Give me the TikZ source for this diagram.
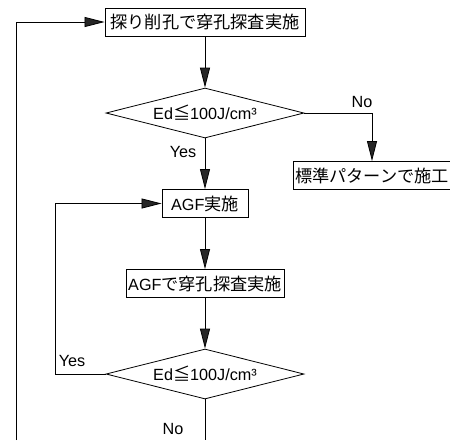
\documentclass[tikz,border=0pt]{standalone}
\usepackage{fontspec}
\setmainfont{Liberation Sans}
\newfontfamily\cjk[Scale=1.06]{Noto Sans CJK JP}
\usetikzlibrary{shapes.geometric,arrows.meta}
\begin{document}
\begin{tikzpicture}[x=1pt,y=-1pt,
  font=\fontsize{16.2}{19}\selectfont,
  box/.style={draw, line width=0.9pt, inner sep=0pt, minimum height=28pt},
  dec/.style={draw, diamond, aspect=4, inner sep=0pt, minimum width=198pt, minimum height=50pt, line width=0.8pt},
  link/.style={line width=0.8pt},
  arr/.style={link, -{Triangle[length=20pt,width=10pt,fill=black!85]}},
  lbl/.style={inner sep=0pt}]
\useasboundingbox (0,0) rectangle (450,440);
\node[box, minimum width=200pt] (n1) at (205,22) {\cjk 探り削孔で穿孔探査実施};
\node[dec] (d1) at (205,113) {Ed{\cjk ≦}100J/cm³};
\node[box, minimum width=157pt] (std) at (372,175.5) {\cjk 標準パターンで施工};
\node[box, minimum width=86pt] (agf) at (205,203.5) {AGF{\cjk 実施}};
\node[box, minimum width=158pt] (agf2) at (205,283.5) {AGF{\cjk で穿孔探査実施}};
\node[dec] (d2) at (205,374) {Ed{\cjk ≦}100J/cm³};
\coordinate (b1) at (205,440);
\coordinate (b2) at (16,440);
\coordinate (lp) at (55,0);
\draw[arr] (n1) -- (d1);
\draw[arr] (d1.east) -| (std.north);
\draw[arr] (d1) -- (agf);
\draw[arr] (agf) -- (agf2);
\draw[arr] (agf2) -- (d2);
\draw[arr] (d2.west) -- (d2.west -| lp) -- (agf.west -| lp) -- (agf.west);
\draw[link] (d2) -- (b1);
\draw[arr] (b2) |- (n1.west);
\node[lbl] at (362,102) {No};
\node[lbl] at (183,152) {Yes};
\node[lbl] at (72,361) {Yes};
\node[lbl] at (173,429) {No};
\end{tikzpicture}
\end{document}
